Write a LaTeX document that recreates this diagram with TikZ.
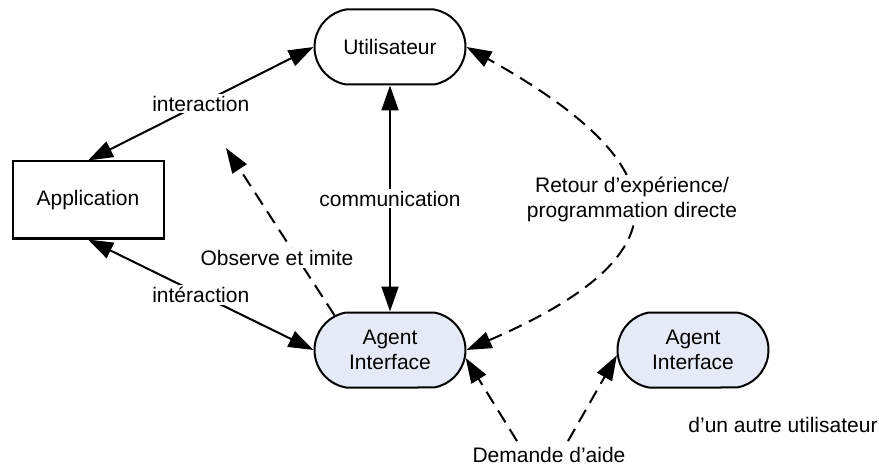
\documentclass[tikz,border=0pt]{standalone}
\usepackage{fontspec}
\setmainfont{Liberation Sans}
\usepackage{tikz}
\usepackage{xcolor}
\usetikzlibrary{shapes.misc,arrows.meta,positioning}
\definecolor{bleuclair}{RGB}{228,235,247}

\begin{document}
\begin{tikzpicture}[x=1pt, y=-1pt,
  font=\fontsize{21}{25}\selectfont,
  >={Triangle[length=25pt,width=17pt]},
  trait/.style={line width=2pt},
  tirets/.style={line width=2pt, dash pattern=on 14pt off 8pt},
  arrondi/.style={rounded rectangle, rounded rectangle arc length=160, draw, line width=2pt,
    minimum width=151pt, minimum height=75pt, inner sep=0pt, align=center},
  etiquette/.style={fill=white, inner sep=2pt, align=center}]
\useasboundingbox (0,0) rectangle (879,468);

% Noeuds
\node[arrondi] (user) at (390,47) {Utilisateur};
\node[rectangle, draw, line width=2pt, minimum width=151pt, minimum height=77pt] (app) at (88,200) {Application};
\node[arrondi, fill=bleuclair] (agent) at (390,350) {Agent\\Interface};
\node[arrondi, fill=bleuclair] (agent2) at (693,350) {Agent\\Interface};
\node (autre) at (783,425) {d'un autre utilisateur};
\node[inner sep=1pt] (aide) at (549,455) {Demande d’aide};
\coordinate (obsfin) at (226,148);

% Liens pleins
\draw[trait, <->] (app.north) -- node[etiquette] {interaction} (user.west);
\draw[trait, <->] (user.south) -- node[etiquette] {communication} (agent.north);
\draw[trait, <->] (app.south) -- node[etiquette] {intéraction} (agent.west);

% Liens en tirets
\draw[tirets, ->] (agent.148) -- (obsfin);
\node[etiquette] (obs) at (277,258) {Observe et imite};

\draw[tirets, <->] (agent.east) .. controls (684,256) and (685,169) .. (user.east);
\node[etiquette] (retour) at (632,199) {Retour d’expérience/\\programmation directe};

\draw[tirets, ->] ([xshift=-32pt,yshift=5pt]aide.north) -- (agent.-6);
\draw[tirets, ->] ([xshift=19pt,yshift=5pt]aide.north) -- (agent2.184);
\end{tikzpicture}
\end{document}
